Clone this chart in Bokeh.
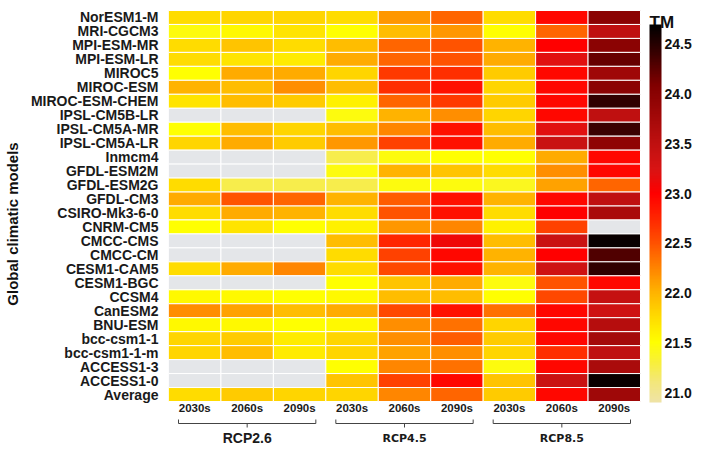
import numpy as np
from bokeh.plotting import figure
from bokeh.models import (ColumnDataSource, LinearColorMapper, ColorBar, FixedTicker,
                          Range1d, NumeralTickFormatter)
from bokeh.core.properties import value
from bokeh.embed import file_html
from bokeh.resources import INLINE

nan = float("nan")

models = ["NorESM1-M", "MRI-CGCM3", "MPI-ESM-MR", "MPI-ESM-LR", "MIROC5", "MIROC-ESM",
          "MIROC-ESM-CHEM", "IPSL-CM5B-LR", "IPSL-CM5A-MR", "IPSL-CM5A-LR", "Inmcm4",
          "GFDL-ESM2M", "GFDL-ESM2G", "GFDL-CM3", "CSIRO-Mk3-6-0", "CNRM-CM5", "CMCC-CMS",
          "CMCC-CM", "CESM1-CAM5", "CESM1-BGC", "CCSM4", "CanESM2", "BNU-ESM", "bcc-csm1-1",
          "bcc-csm1-1-m", "ACCESS1-3", "ACCESS1-0", "Average"]
periods = ["2030s", "2060s", "2090s"]
scenarios = ["RCP2.6", "RCP4.5", "RCP8.5"]

rcp26_2030s = [21.75, 21.45, 21.75, 21.75, 21.5, 22.0, 21.7, nan, 21.5, 21.8, nan, nan, 21.75, 22.05,
               21.75, 21.5, nan, nan, 21.75, nan, 21.55, 22.2, 21.55, 21.8, 21.8, nan, nan, 21.75]
rcp26_2060s = [21.8, 21.55, 21.9, 21.7, 22.05, 21.95, 21.95, nan, 21.95, 22.05, nan, nan, 21.25, 22.5,
               22.05, 21.7, nan, nan, 22.05, nan, 21.55, 22.1, 21.55, 21.85, 21.95, nan, nan, 21.85]
rcp26_2090s = [21.8, 21.7, 21.75, 21.65, 22.05, 22.2, 21.85, nan, 21.8, 21.85, nan, nan, 21.25, 22.4,
               22.0, 21.5, nan, nan, 22.25, nan, 21.5, 21.95, 21.5, 21.65, 21.65, nan, nan, 21.8]
rcp45_2030s = [21.75, 21.5, 21.95, 22.05, 21.8, 21.95, 21.6, 21.45, 21.95, 22.15, 21.25, 21.45, 21.25, 22.0,
               21.75, 21.6, 21.95, 21.75, 21.75, 21.5, 21.55, 22.05, 21.55, 21.8, 21.8, 21.5, 21.9, 21.8]
rcp45_2060s = [22.15, 21.95, 22.4, 22.4, 22.65, 22.7, 22.4, 22.0, 22.25, 22.6, 21.45, 22.0, 21.45, 22.45,
               22.5, 22.15, 22.75, 22.6, 22.55, 21.9, 21.95, 22.55, 22.2, 22.2, 22.1, 22.25, 22.6, 22.25]
rcp45_2090s = [22.4, 22.15, 22.5, 22.5, 22.7, 22.9, 22.65, 22.2, 22.9, 22.9, 21.5, 21.9, 21.45, 22.9,
               22.9, 22.25, 23.1, 22.95, 22.9, 22.05, 21.95, 22.9, 22.35, 22.45, 22.2, 22.35, 22.95, 22.4]
rcp85_2030s = [21.75, 21.5, 22.0, 22.05, 21.85, 21.8, 21.85, 21.8, 21.95, 22.05, 21.5, 21.75, 21.4, 22.0,
               21.75, 21.6, 21.95, 22.0, 22.0, 21.45, 21.5, 22.35, 21.8, 21.85, 21.8, 21.45, 21.9, 21.85]
rcp85_2060s = [22.95, 22.4, 23.0, 23.2, 22.95, 22.95, 22.95, 22.95, 23.2, 23.4, 22.05, 22.2, 22.1, 22.95,
               23.0, 22.6, 23.4, 23.0, 23.35, 22.5, 22.55, 22.95, 22.95, 22.95, 22.7, 22.95, 23.4, 22.95]
rcp85_2090s = [24.0, 23.5, 24.0, 24.2, 23.8, 24.0, 24.45, 23.5, 24.4, 23.95, 22.95, 22.95, 22.4, 23.5,
               23.7, nan, 24.65, 24.3, 24.45, 22.95, 23.45, 23.35, 23.6, 23.75, 23.5, 23.7, 24.65, 23.8]

columns = [rcp26_2030s, rcp26_2060s, rcp26_2090s,
           rcp45_2030s, rcp45_2060s, rcp45_2090s,
           rcp85_2030s, rcp85_2060s, rcp85_2090s]

cbar_ticks = [21.0, 21.5, 22.0, 22.5, 23.0, 23.5, 24.0, 24.5]
cbar_title = "TM"

# colour scale (light khaki -> yellow -> orange -> red -> black)
anchor_vals = [20.9, 21.1, 21.3, 21.5, 21.75, 22.0, 22.25, 22.5, 22.75, 23.0, 23.25, 23.5, 23.8, 24.1, 24.4, 24.7]
anchor_cols = ["#efe3a6", "#f3e77a", "#f8f03a", "#ffff00", "#ffdc00", "#ffb400", "#ff8400", "#ff5200",
               "#ff2600", "#ff0000", "#d81414", "#c01010", "#a00808", "#800000", "#3c0000", "#000000"]
LOW, HIGH = anchor_vals[0], anchor_vals[-1]


def hex2rgb(h):
    return [int(h[i:i + 2], 16) for i in (1, 3, 5)]


rgbs = np.array([hex2rgb(c) for c in anchor_cols], dtype=float)
grid = np.linspace(LOW, HIGH, 256)
palette = []
for g in grid:
    r = np.interp(g, anchor_vals, rgbs[:, 0])
    gg = np.interp(g, anchor_vals, rgbs[:, 1])
    b = np.interp(g, anchor_vals, rgbs[:, 2])
    palette.append("#%02x%02x%02x" % (int(round(r)), int(round(gg)), int(round(b))))

mapper = LinearColorMapper(palette=palette, low=LOW, high=HIGH, nan_color="#e4e6e9")

n_rows = len(models)
n_cols = len(columns)
xs, ys, vals = [], [], []
for ci, col in enumerate(columns):
    for ri, v in enumerate(col):
        xs.append(ci)
        ys.append(n_rows - 1 - ri)
        vals.append(v)
source = ColumnDataSource(dict(x=xs, y=ys, v=np.array(vals, dtype=float)))

HEAT_W, HEAT_H = 472, 391   # pixel size of the heat map
TOP_PX = 10                 # space above the heat map inside the frame
FRAME_W, FRAME_H = 542, 447
COL_PX = HEAT_W / float(n_cols)
ROW_PX = HEAT_H / float(n_rows)
BOTTOM_PX = FRAME_H - HEAT_H - TOP_PX
ybottom = -0.5 - BOTTOM_PX / ROW_PX
ytop = n_rows - 0.5 + TOP_PX / ROW_PX

p = figure(frame_width=FRAME_W, frame_height=FRAME_H,
           x_range=Range1d(-0.5, -0.5 + FRAME_W / COL_PX),
           y_range=Range1d(ybottom, ytop),
           output_backend="svg", toolbar_location=None,
           min_border_left=165, min_border_top=0, min_border_bottom=8, min_border_right=0)
p.outline_line_color = None
p.xgrid.visible = False
p.ygrid.visible = False
p.xaxis.visible = False
p.background_fill_color = None

p.rect(x="x", y="y", width=1, height=1, source=source,
       fill_color={"field": "v", "transform": mapper},
       line_color="white", line_width=1)

yaxis = p.yaxis[0]
yaxis.ticker = FixedTicker(ticks=list(range(n_rows)))
yaxis.major_label_overrides = {n_rows - 1 - i: m for i, m in enumerate(models)}
yaxis.axis_line_color = None
yaxis.major_tick_line_color = None
yaxis.minor_tick_line_color = None
yaxis.major_label_standoff = 4
yaxis.major_label_text_font = "Liberation Sans"
yaxis.major_label_text_font_style = "bold"
yaxis.major_label_text_font_size = "14px"
yaxis.major_label_text_color = "#1a1a1a"
yaxis.axis_label = "Global climatic models"
yaxis.axis_label_text_font = "Liberation Sans"
yaxis.axis_label_text_font_style = "bold"
yaxis.axis_label_text_font_size = "15px"
yaxis.axis_label_text_color = "#111111"
yaxis.axis_label_standoff = 7

# period labels under each column
per_x = list(range(n_cols))
per_t = [periods[i % 3] for i in per_x]
p.text(x=per_x, y=[-0.5 - 6.5 / ROW_PX] * len(per_x), text=per_t,
       text_font=value("Liberation Sans"), text_font_style="bold", text_font_size="11.5px",
       text_align="center", text_baseline="middle", text_color="#1a1a1a")

# scenario brackets
inset = 10 / COL_PX
y_top = -0.5 - 18 / ROW_PX
y_mid = -0.5 - 22 / ROW_PX
y_low = -0.5 - 26 / ROW_PX
bx, by = [], []
for g in range(len(scenarios)):
    xl = 3 * g - 0.5 + inset
    xr = 3 * g + 2.5 - inset
    bx.append([xl, xl, xr, xr])
    by.append([y_top, y_mid, y_mid, y_top])
    bx.append([3 * g + 1, 3 * g + 1])
    by.append([y_mid, y_low])
p.multi_line(xs=bx, ys=by, line_color="#444444", line_width=1)

y_grp = -0.5 - 36.5 / ROW_PX
p.text(x=[1], y=[y_grp], text=[scenarios[0]],
       text_font=value("Liberation Sans"), text_font_style="bold", text_font_size="14px",
       text_align="center", text_baseline="middle", text_color="#1a1a1a")
p.text(x=[4, 7], y=[y_grp, y_grp], text=scenarios[1:],
       text_font=value("DejaVu Sans"), text_font_style="bold", text_font_size="11px",
       text_align="center", text_baseline="middle", text_color="#1a1a1a")

# colour bar and its title
cb = ColorBar(color_mapper=mapper, width=12, height=378, location=(HEAT_W + 9, 45),
              padding=0, margin=0,
              ticker=FixedTicker(ticks=cbar_ticks),
              formatter=NumeralTickFormatter(format="0.0"),
              major_label_text_font="Liberation Sans", major_label_text_font_style="bold",
              major_label_text_font_size="14px", major_label_text_color="#111111",
              major_tick_line_color=None, minor_tick_line_color=None,
              bar_line_color=None, border_line_color=None, background_fill_color=None,
              label_standoff=3)
p.add_layout(cb, "center")

p.text(x=[n_cols - 0.5 + 9 / COL_PX], y=[n_rows - 0.5 - 12 / ROW_PX], text=[cbar_title],
       text_font=value("Liberation Sans"), text_font_style="bold", text_font_size="17px",
       text_align="left", text_baseline="alphabetic", text_color="#111111")

open("out.html", "w").write(file_html(p, INLINE))
